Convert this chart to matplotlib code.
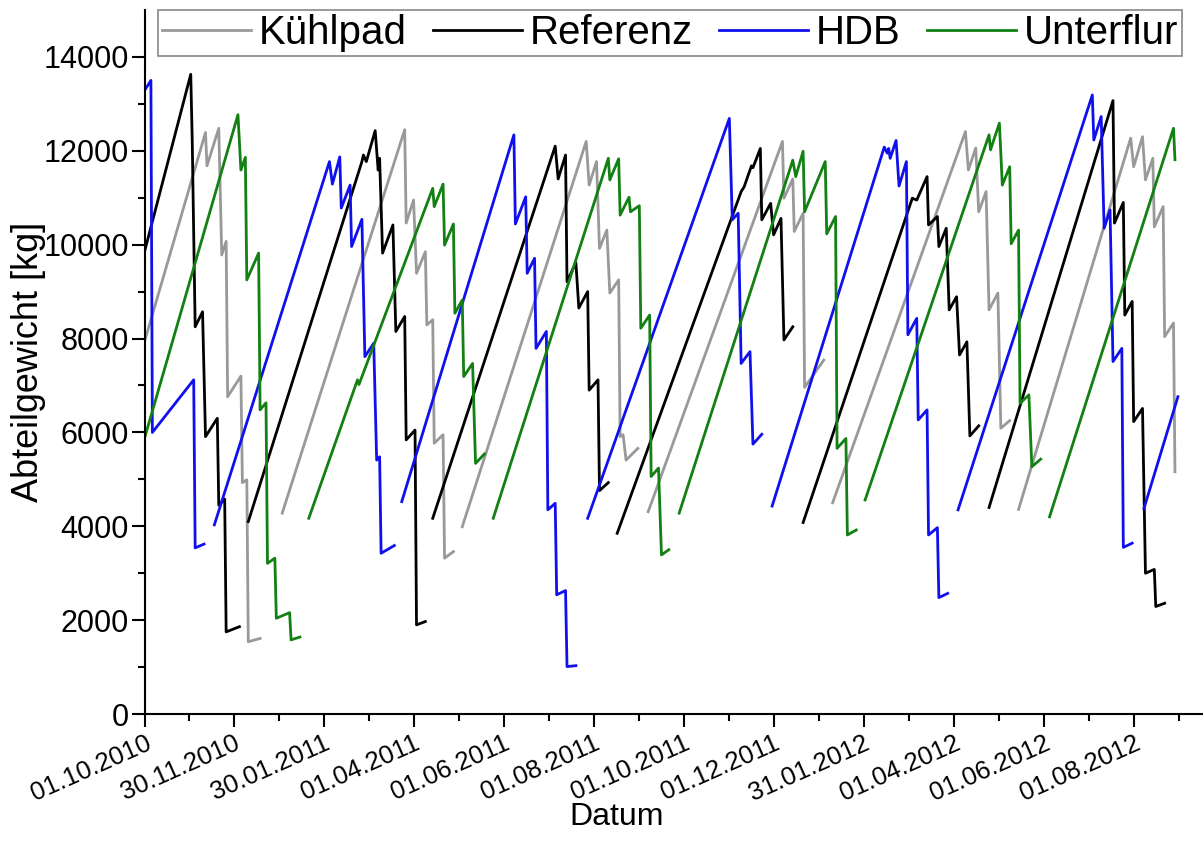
import numpy as np
import pandas as pd
import matplotlib
matplotlib.use('Agg')
import matplotlib.pyplot as plt
import matplotlib.dates as mdates

plt.rcParams['font.family'] = ['Liberation Sans', 'DejaVu Sans']

# Abteilgewicht je Variante, None trennt die Durchgaenge
kuehlpad_datum = [
    '2010-10-01', '2010-11-11', '2010-11-12', '2010-11-20', '2010-11-22', '2010-11-25', '2010-11-26',
    '2010-12-05', '2010-12-06', '2010-12-09', '2010-12-10', '2010-12-18', None,
    '2011-01-02', '2011-03-26', '2011-03-27', '2011-04-01', '2011-04-03', '2011-04-09', '2011-04-10',
    '2011-04-14', '2011-04-15', '2011-04-21', '2011-04-22', '2011-04-28', None,
    '2011-05-04', '2011-07-27', '2011-07-29', '2011-08-03', '2011-08-05', '2011-08-10', '2011-08-12',
    '2011-08-18', '2011-08-19', '2011-08-21', '2011-08-23', '2011-08-31', None,
    '2011-09-07', '2011-12-07', '2011-12-08', '2011-12-14', '2011-12-15', '2011-12-21', '2011-12-22',
    '2012-01-04', None,
    '2012-01-10', '2012-04-09', '2012-04-11', '2012-04-16', '2012-04-18', '2012-04-23', '2012-04-25',
    '2012-05-01', '2012-05-03', '2012-05-09', None,
    '2012-05-15', '2012-07-30', '2012-08-01', '2012-08-07', '2012-08-09', '2012-08-14', '2012-08-15',
    '2012-08-21', '2012-08-22', '2012-08-28', '2012-08-29']
kuehlpad_kg = [
    7970, 12390, 11680, 12480, 9780, 10070, 6760, 7200, 4930, 4990, 1540, 1610, None,
    4280, 12450, 10460, 10950, 9390, 9850, 8290, 8400, 5770, 5950, 3320, 3460, None,
    3990, 12200, 11270, 11770, 9920, 10310, 8970, 9250, 5910, 5950, 5410, 5660, None,
    4310, 12200, 10990, 11400, 10280, 10670, 6960, 7540, None,
    4500, 12410, 11590, 12060, 10700, 11130, 8610, 8970, 6090, 6250, None,
    4360, 12270, 11660, 12300, 11380, 11840, 10380, 10810, 8040, 8330, 5160]

referenz_datum = [
    '2010-10-01', '2010-11-01', '2010-11-02', '2010-11-04', '2010-11-09', '2010-11-11', '2010-11-19',
    '2010-11-20', '2010-11-24', '2010-11-25', '2010-12-04', None,
    '2010-12-10', '2011-02-25', '2011-02-26', '2011-02-28', '2011-03-06', '2011-03-08', '2011-03-09',
    '2011-03-11', '2011-03-18', '2011-03-20', '2011-03-26', '2011-03-27', '2011-04-02', '2011-04-03',
    '2011-04-09', None,
    '2011-04-14', '2011-07-06', '2011-07-08', '2011-07-13', '2011-07-14', '2011-07-20', '2011-07-22',
    '2011-07-28', '2011-07-29', '2011-08-04', '2011-08-05', '2011-08-11', None,
    '2011-08-17', '2011-11-09', '2011-11-11', '2011-11-16', '2011-11-17', '2011-11-22', '2011-11-23',
    '2011-11-29', '2011-12-01', '2011-12-06', '2011-12-08', '2011-12-14', None,
    '2011-12-21', '2012-03-04', '2012-03-07', '2012-03-14', '2012-03-15', '2012-03-21', '2012-03-22',
    '2012-03-27', '2012-03-29', '2012-04-03', '2012-04-05', '2012-04-10', '2012-04-12', '2012-04-18', None,
    '2012-04-25', '2012-07-18', '2012-07-19', '2012-07-25', '2012-07-26', '2012-07-31', '2012-08-01',
    '2012-08-07', '2012-08-09', '2012-08-15', '2012-08-16', '2012-08-22']
referenz_kg = [
    9890, 13630, 12230, 8250, 8570, 5910, 6300, 4450, 4580, 1750, 1860, None,
    4100, 11770, 11910, 11770, 12430, 11590, 11840, 9820, 10420, 8150, 8470, 5840, 6050, 1900, 1970, None,
    4170, 12100, 11400, 11910, 9210, 9620, 8650, 9000, 6900, 7120, 4760, 4930, None,
    3850, 11130, 11230, 11680, 11640, 12050, 10530, 10880, 10210, 10560, 7970, 8250, None,
    4080, 10990, 10950, 11450, 10420, 10600, 9960, 10350, 8610, 8890, 7650, 7930, 5925, 6140, None,
    4400, 13070, 10460, 10900, 8500, 8790, 6230, 6510, 3000, 3080, 2290, 2360]

hdb_datum = [
    '2010-10-01', '2010-10-05', '2010-10-06', '2010-11-03', '2010-11-04', '2010-11-10', None,
    '2010-11-17', '2011-02-03', '2011-02-05', '2011-02-10', '2011-02-11', '2011-02-17', '2011-02-18',
    '2011-02-25', '2011-02-27', '2011-03-05', '2011-03-07', '2011-03-09', '2011-03-10', '2011-03-19', None,
    '2011-03-24', '2011-06-08', '2011-06-09', '2011-06-16', '2011-06-17', '2011-06-22', '2011-06-23',
    '2011-06-30', '2011-07-01', '2011-07-06', '2011-07-07', '2011-07-13', '2011-07-14', '2011-07-20', None,
    '2011-07-28', '2011-11-01', '2011-11-02', '2011-11-03', '2011-11-07', '2011-11-09', '2011-11-15',
    '2011-11-17', '2011-11-23', None,
    '2011-11-30', '2012-02-14', '2012-02-16', '2012-02-17', '2012-02-18', '2012-02-22', '2012-02-24',
    '2012-02-29', '2012-03-01', '2012-03-07', '2012-03-08', '2012-03-14', '2012-03-15', '2012-03-21',
    '2012-03-22', '2012-03-28', None,
    '2012-04-04', '2012-07-04', '2012-07-05', '2012-07-10', '2012-07-12', '2012-07-16', '2012-07-18',
    '2012-07-24', '2012-07-25', '2012-07-31', None,
    '2012-08-08', '2012-08-31']
hdb_kg = [
    13300, 13500, 6000, 7120, 3540, 3620, None,
    4030, 11770, 11290, 11870, 10780, 11270, 9960, 10540, 7615, 7900, 5410, 5480, 3425, 3590, None,
    4525, 12340, 10440, 11020, 9390, 9710, 7790, 8150, 4350, 4490, 2540, 2630, 1010, 1030, None,
    4170, 12690, 11610, 10530, 10670, 7470, 7720, 5750, 5960, None,
    4430, 12080, 11950, 12050, 11840, 12220, 11250, 11770, 8080, 8430, 6265, 6480, 3815, 3970, 2480, 2570, None,
    4350, 13190, 12230, 12730, 10350, 10740, 7510, 7790, 3550, 3640, None,
    4380, 6760]

unterflur_datum = [
    '2010-10-01', '2010-12-03', '2010-12-05', '2010-12-08', '2010-12-09', '2010-12-17', '2010-12-18',
    '2010-12-22', '2010-12-23', '2010-12-28', '2010-12-29', '2011-01-07', '2011-01-08', '2011-01-14', None,
    '2011-01-20', '2011-02-22', '2011-02-23', '2011-04-14', '2011-04-15', '2011-04-21', '2011-04-22',
    '2011-04-28', '2011-04-29', '2011-05-04', '2011-05-05', '2011-05-11', '2011-05-13', '2011-05-19', None,
    '2011-05-25', '2011-08-11', '2011-08-12', '2011-08-18', '2011-08-19', '2011-08-25', '2011-08-26',
    '2011-09-01', '2011-09-02', '2011-09-08', '2011-09-09', '2011-09-14', '2011-09-16', '2011-09-21', None,
    '2011-09-28', '2011-12-14', '2011-12-16', '2011-12-21', '2011-12-22', '2012-01-05', '2012-01-06',
    '2012-01-12', '2012-01-13', '2012-01-19', '2012-01-20', '2012-01-26', None,
    '2012-02-01', '2012-04-25', '2012-04-26', '2012-05-02', '2012-05-04', '2012-05-09', '2012-05-10',
    '2012-05-15', '2012-05-16', '2012-05-22', '2012-05-24', '2012-05-30', None,
    '2012-06-05', '2012-08-28', '2012-08-29']
unterflur_kg = [
    5910, 12770, 11590, 11860, 9250, 9820, 6480, 6630, 3210, 3320, 2040, 2160, 1580, 1640, None,
    4170, 7120, 7020, 11200, 10810, 11290, 9990, 10440, 8540, 8820, 7190, 7470, 5340, 5540, None,
    4170, 11840, 11380, 11830, 10630, 11010, 10700, 10830, 8220, 8500, 5060, 5240, 3390, 3500, None,
    4280, 11800, 11450, 11990, 10700, 11770, 10230, 10600, 5660, 5870, 3815, 3920, None,
    4560, 12340, 12020, 12590, 11270, 11660, 10020, 10310, 6620, 6800, 5270, 5430, None,
    4200, 12480, 11810]

# Achsenbeschriftung Datum
tick_datum = ['2010-10-01', '2010-11-30', '2011-01-30', '2011-04-01', '2011-06-01', '2011-08-01',
              '2011-10-01', '2011-12-01', '2012-01-31', '2012-04-01', '2012-06-01', '2012-08-01']

reihen = [
    ('Kühlpad', kuehlpad_datum, kuehlpad_kg, '#999999'),
    ('Referenz', referenz_datum, referenz_kg, 'black'),
    ('HDB', hdb_datum, hdb_kg, '#1010ee'),
    ('Unterflur', unterflur_datum, unterflur_kg, '#128012'),
]


def segmente(datum, kg):
    seg_d, seg_v = [], []
    for d, v in zip(datum, kg):
        if d is None:
            yield seg_d, seg_v
            seg_d, seg_v = [], []
        else:
            seg_d.append(pd.Timestamp(d))
            seg_v.append(v)
    yield seg_d, seg_v


fig = plt.figure(figsize=(12.03, 8.47), dpi=100)
ax = fig.add_axes([145 / 1203, 133 / 847, 1058 / 1203, 704 / 847])

for name, datum, kg, farbe in reihen:
    for i, (d, v) in enumerate(segmente(datum, kg)):
        ax.plot(d, v, color=farbe, lw=2.0, label=name if i == 0 else None)

ticks = pd.to_datetime(tick_datum)
ax.set_xlim(pd.Timestamp('2010-10-01'), pd.Timestamp('2012-09-17'))
ax.set_ylim(0, 15000)
ax.set_xticks(ticks)
minor = ticks[:-1] + (ticks[1:] - ticks[:-1]) / 2
minor = minor.append(pd.DatetimeIndex([ticks[-1] + (ticks[-1] - ticks[-2]) / 2]))
ax.set_xticks(minor, minor=True)
ax.xaxis.set_major_formatter(mdates.DateFormatter('%d.%m.%Y'))
ax.set_yticks(np.arange(0, 14001, 2000))
ax.set_yticks(np.arange(1000, 15000, 2000), minor=True)

ax.tick_params(axis='both', which='major', direction='out', length=9.5, width=1.5)
ax.tick_params(axis='both', which='minor', direction='out', length=5, width=1.5)
ax.tick_params(axis='x', which='major', pad=3, labelsize=18.5, labelrotation=24)
ax.tick_params(axis='y', which='major', pad=2, labelsize=22)

for lab in ax.get_xticklabels():
    lab.set_ha('right')
    lab.set_va('top')
    lab.set_rotation_mode('anchor')

for s in ['top', 'right']:
    ax.spines[s].set_visible(False)
for s in ['left', 'bottom']:
    ax.spines[s].set_linewidth(1.5)

ax.set_xlabel('Datum', fontsize=23)
ax.set_ylabel('Abteilgewicht [kg]', fontsize=26)
ax.xaxis.set_label_coords(472 / 1058, -88 / 704)
ax.yaxis.set_label_coords(-99 / 1058, 0.5)

leg = ax.legend(loc='upper left', bbox_to_anchor=(13 / 1058, 0, 1024 / 1058, 1.0),
                mode='expand', ncol=4, fontsize=29, handlelength=2.2, handletextpad=0.2,
                borderpad=0.1, borderaxespad=0, fancybox=False, framealpha=1)
leg.get_frame().set_edgecolor('#888888')
leg.get_frame().set_linewidth(1.2)

plt.savefig('out.png', dpi=100)
